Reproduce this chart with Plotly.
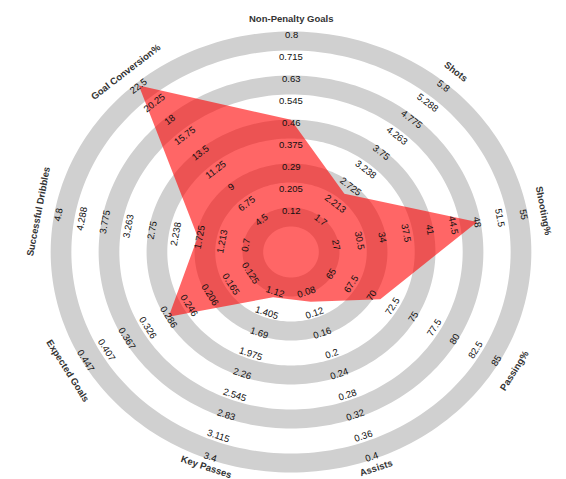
import numpy as np
import plotly.graph_objects as go

# ---------------- data ----------------
params = ["Non-Penalty Goals", "Shots", "Shooting%", "Passing%", "Assists",
          "Key Passes", "Expected Goals", "Successful Dribbles", "Goal Conversion%"]
values = [0.47, 2.5, 48, 71, 0.10, 1.2, 0.286, 1.75, 22.5]

ticks_npg = [0.12, 0.205, 0.29, 0.375, 0.46, 0.545, 0.63, 0.715, 0.8]
ticks_shots = [1.7, 2.213, 2.725, 3.238, 3.75, 4.263, 4.775, 5.288, 5.8]
ticks_shooting = [27, 30.5, 34, 37.5, 41, 44.5, 48, 51.5, 55]
ticks_passing = [65, 67.5, 70, 72.5, 75, 77.5, 80, 82.5, 85]
ticks_assists = [0.08, 0.12, 0.16, 0.2, 0.24, 0.28, 0.32, 0.36, 0.4]
ticks_kp = [1.12, 1.405, 1.69, 1.975, 2.26, 2.545, 2.83, 3.115, 3.4]
ticks_xg = [0.125, 0.165, 0.206, 0.246, 0.286, 0.326, 0.367, 0.407, 0.447]
ticks_drib = [0.7, 1.213, 1.725, 2.238, 2.75, 3.263, 3.775, 4.288, 4.8]
ticks_conv = [4.5, 6.75, 9, 11.25, 13.5, 15.75, 18, 20.25, 22.5]
tick_sets = [ticks_npg, ticks_shots, ticks_shooting, ticks_passing, ticks_assists,
             ticks_kp, ticks_xg, ticks_drib, ticks_conv]

# ---------------- geometry / style ----------------
W, H = 566, 479
CX, CY = 283, 244          # pixel centre
SX = 1.09                  # horizontal stretch (px per unit)
R0, DR = 42.0, 21.9        # radius of first tick label, spacing
RING_CENTERS = [35, 79, 123, 167, 211]
RING_W = 19
LABEL_R = [234, 236, 236, 236, 229, 228, 236, 236, 236]
RING_COLOR = "#D0D0D0"
POLY_COLOR = "rgba(255,0,0,0.6)"
FONT = "Liberation Sans, Arial, sans-serif"

n = len(params)
thetas = np.deg2rad(90 - 360.0 / n * np.arange(n))


def radius_of(v, ticks):
    return R0 + DR * (len(ticks) - 1) * (v - ticks[0]) / (ticks[-1] - ticks[0])


def text_angle(th):
    tx, ty = -SX * np.sin(th), np.cos(th)
    a = -np.degrees(np.arctan2(ty, tx))
    while a > 90:
        a -= 180
    while a <= -90:
        a += 180
    return a


def fmt(v):
    return ("%.3f" % v).rstrip("0").rstrip(".")


fig = go.Figure()

# rings (annuli) as path shapes
phi = np.linspace(0, 2 * np.pi, 241)
shapes = []
for rc in RING_CENTERS:
    ro, ri = rc + RING_W / 2, rc - RING_W / 2
    p_out = " L ".join("%.3f,%.3f" % (ro * np.cos(a), ro * np.sin(a)) for a in phi)
    p_in = " L ".join("%.3f,%.3f" % (ri * np.cos(a), ri * np.sin(a)) for a in phi[::-1])
    shapes.append(dict(type="path", xref="x", yref="y", path="M " + p_out + " Z M " + p_in + " Z",
                       fillcolor=RING_COLOR, line=dict(width=0), layer="below", fillrule="evenodd"))

# polygon
rv = np.array([radius_of(v, t) for v, t in zip(values, tick_sets)])
px = list(rv * np.cos(thetas)) + [rv[0] * np.cos(thetas[0])]
py = list(rv * np.sin(thetas)) + [rv[0] * np.sin(thetas[0])]
fig.add_trace(go.Scatter(x=px, y=py, mode="lines", fill="toself", fillcolor=POLY_COLOR,
                         line=dict(width=0), hoverinfo="skip", showlegend=False))

annotations = []
for th, name, ticks, lr in zip(thetas, params, tick_sets, LABEL_R):
    ang = text_angle(th)
    for k, t in enumerate(ticks):
        r = R0 + DR * k
        annotations.append(dict(x=r * np.cos(th), y=r * np.sin(th), xref="x", yref="y",
                                text=fmt(t), showarrow=False, textangle=ang,
                                font=dict(family=FONT, size=9.5, color="#111111"),
                                xanchor="center", yanchor="middle"))
    annotations.append(dict(x=lr * np.cos(th), y=lr * np.sin(th), xref="x", yref="y",
                            text="<b>" + name + "</b>", showarrow=False, textangle=ang,
                            font=dict(family=FONT, size=9.5, color="#333333"),
                            xanchor="center", yanchor="middle"))

fig.update_layout(
    width=W, height=H, margin=dict(l=0, r=0, t=0, b=0),
    paper_bgcolor="white", plot_bgcolor="white",
    xaxis=dict(range=[-CX / SX, (W - CX) / SX], visible=False, fixedrange=True),
    yaxis=dict(range=[-(H - CY), CY], visible=False, fixedrange=True),
    shapes=shapes, annotations=annotations, showlegend=False,
)

fig.write_html("out.html")
